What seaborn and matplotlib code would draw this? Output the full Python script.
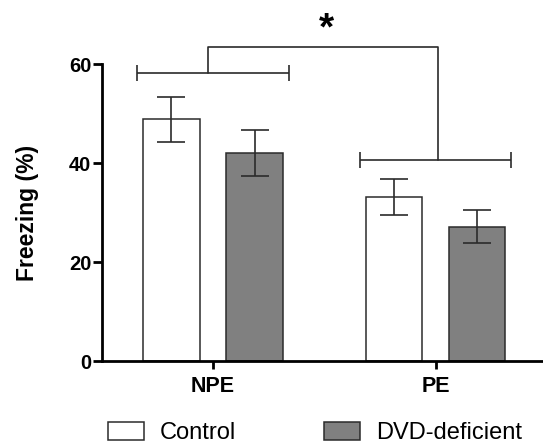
import matplotlib
matplotlib.use("Agg")
import matplotlib.pyplot as plt
import seaborn as sns
import pandas as pd

# ---- data ----
groups = ["NPE", "PE"]
conditions = ["Control", "DVD-deficient"]
control_mean = [48.9, 33.2]
control_sem = [4.55, 3.6]
dvd_mean = [42.1, 27.2]
dvd_sem = [4.7, 3.35]
y_ticks = [0, 20, 40, 60]
bracket_levels = [58.2, 40.6]   # group-level brackets
bracket_top = 63.6
star_text = "*"

df = pd.DataFrame({
    "group": groups * 2,
    "condition": [conditions[0]] * 2 + [conditions[1]] * 2,
    "freezing": control_mean + dvd_mean,
    "sem": control_sem + dvd_sem,
})

sns.set_style("ticks")
plt.rcParams["font.family"] = ["Liberation Sans", "DejaVu Sans"]
plt.rcParams["text.color"] = "black"
plt.rcParams["axes.labelcolor"] = "black"
plt.rcParams["xtick.color"] = "black"
plt.rcParams["ytick.color"] = "black"

dark = "#2b2b2b"
fig = plt.figure(figsize=(5.43, 4.44), dpi=100)
ax = fig.add_axes([0.1873, 0.1869, 0.8199, 0.6682])

sns.barplot(data=df, x="group", y="freezing", hue="condition",
            order=groups, hue_order=conditions,
            palette={"Control": "white", "DVD-deficient": "#808080"},
            edgecolor=dark, linewidth=1.1, width=0.746, gap=0.324,
            errorbar=None, ax=ax, zorder=2)

# error bars (SEM) at the bar positions produced by seaborn
sems = [control_sem, dvd_sem]
for cont, sem in zip(ax.containers, sems):
    xs = [b.get_x() + b.get_width() / 2 for b in cont]
    ys = [b.get_height() for b in cont]
    ax.errorbar(xs, ys, yerr=sem, fmt="none", ecolor=dark, elinewidth=1.2,
                capsize=10, capthick=1.2, zorder=3)

ax.set_ylim(0, 60)
ax.set_xlim(-0.5, 1.5)
ax.set_yticks(y_ticks)
ax.set_xlabel("")
ax.set_ylabel("Freezing (%)", fontsize=16.5, fontweight="bold", labelpad=21.5)

for s in ["top", "right"]:
    ax.spines[s].set_visible(False)
for s in ["left", "bottom"]:
    ax.spines[s].set_linewidth(2.0)
    ax.spines[s].set_color("black")
ax.tick_params(axis="y", length=6.5, width=2.0, pad=1, labelsize=14.5)
ax.tick_params(axis="x", length=5.5, width=2.0, pad=5, labelsize=15.5)
for lab in ax.get_xticklabels() + ax.get_yticklabels():
    lab.set_fontweight("bold")

# significance brackets
eb = ax.errorbar([0, 1], bracket_levels, xerr=0.34, fmt="none", ecolor=dark,
                 elinewidth=1.2, capsize=5.8, capthick=1.2, zorder=4)
for art in eb.lines[1] + eb.lines[2]:
    art.set_clip_on(False)
ax.plot([-0.024, -0.024, 1.012, 1.012],
        [bracket_levels[0], bracket_top, bracket_top, bracket_levels[1]],
        color=dark, lw=1.2, clip_on=False, zorder=4)
ax.text(0.511, 67.0, star_text, ha="center", va="center", fontsize=28,
        fontweight="bold", clip_on=False)

# legend at bottom
handles, labels = ax.get_legend_handles_labels()
if ax.get_legend() is not None:
    ax.get_legend().remove()
fig.legend(handles, labels, loc="center left",
           bbox_to_anchor=(107.7 / 543, (444 - 433.3) / 444),
           ncol=2, frameon=False, fontsize=17, borderpad=0, borderaxespad=0,
           handlelength=1.52, handleheight=0.8, handletextpad=0.67,
           columnspacing=3.75)

fig.savefig("out.png", dpi=100)
